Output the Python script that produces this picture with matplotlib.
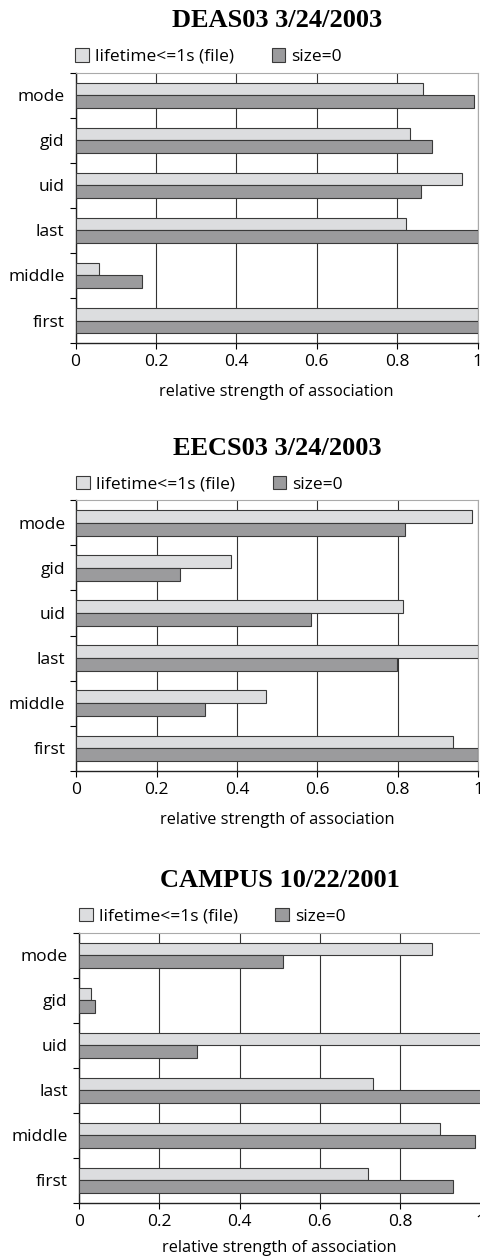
import matplotlib.pyplot as plt
import numpy as np

plt.rcParams['font.family'] = ['Open Sans', 'DejaVu Sans']

categories = ['first', 'middle', 'last', 'uid', 'gid', 'mode']
series_names = ['lifetime<=1s (file)', 'size=0']
titles = ['DEAS03 3/24/2003', 'EECS03 3/24/2003', 'CAMPUS 10/22/2001']

# values ordered as categories (first .. mode)
deas_life = [1.0, 0.058, 0.821, 0.962, 0.831, 0.865]
deas_size = [1.0, 0.166, 1.0, 0.858, 0.886, 0.990]
eecs_life = [0.938, 0.473, 1.0, 0.812, 0.385, 0.985]
eecs_size = [1.0, 0.320, 0.798, 0.584, 0.258, 0.817]
campus_life = [0.719, 0.900, 0.733, 1.0, 0.031, 0.879]
campus_size = [0.932, 0.987, 1.0, 0.293, 0.040, 0.507]

xticks = [0, 0.2, 0.4, 0.6, 0.8, 1.0]
xticklabels = ['0', '0.2', '0.4', '0.6', '0.8', '1']

panels = [(deas_life, deas_size), (eecs_life, eecs_size), (campus_life, campus_size)]
# axes rectangles in figure fraction [left, bottom, width, height]
rects = [[0.157, 0.7271, 0.836, 0.215],
         [0.159, 0.3869, 0.835, 0.215],
         [0.164, 0.0432, 0.835, 0.2148]]
label_pads = [10, 10, 7]

light = '#dcdddf'
dark = '#9b9b9d'
edge = '#3a3a3a'

fig = plt.figure(figsize=(4.81, 12.57), dpi=100)

for (life, size), rect, title, lp in zip(panels, rects, titles, label_pads):
    ax = fig.add_axes(rect)
    y = np.arange(len(categories))
    h = 0.28
    ax.barh(y + h / 2, life, height=h, color=light, edgecolor=edge, linewidth=0.8, label=series_names[0], zorder=3)
    ax.barh(y - h / 2, size, height=h, color=dark, edgecolor=edge, linewidth=0.8, label=series_names[1], zorder=3)
    ax.set_xlim(0, 1)
    ax.set_ylim(-0.5, len(categories) - 0.5)
    ax.set_yticks(y)
    ax.set_yticklabels(categories, fontsize=12.5)
    ax.set_yticks(np.arange(-0.5, len(categories)), minor=True)
    ax.tick_params(axis='y', which='major', length=0, pad=8)
    ax.tick_params(axis='y', which='minor', length=4, width=0.8, direction='out')
    ax.set_xticks(xticks)
    ax.set_xticklabels(xticklabels, fontsize=12.5)
    ax.tick_params(axis='x', length=4, width=0.8, direction='out', pad=4)
    ax.xaxis.grid(True, color='#333333', linewidth=0.8, zorder=0)
    ax.set_axisbelow(True)
    for s in ['left', 'bottom']:
        ax.spines[s].set_color('#222222')
        ax.spines[s].set_linewidth(1.0)
    for s in ['top', 'right']:
        ax.spines[s].set_color('#aaaaaa')
        ax.spines[s].set_linewidth(0.8)
    ax.set_xlabel('relative strength of association', fontsize=11.8, labelpad=lp)
    ax.legend(ncol=2, loc='lower left', bbox_to_anchor=(-0.02, 1.0), frameon=False,
              fontsize=12.5, handlelength=0.8, handleheight=0.8, handletextpad=0.35,
              columnspacing=2.15, borderaxespad=0.05)
    ax.set_title(title, fontsize=19, fontweight='bold', family='Liberation Serif', pad=33)

plt.savefig('out.png', dpi=100)
plt.close()
